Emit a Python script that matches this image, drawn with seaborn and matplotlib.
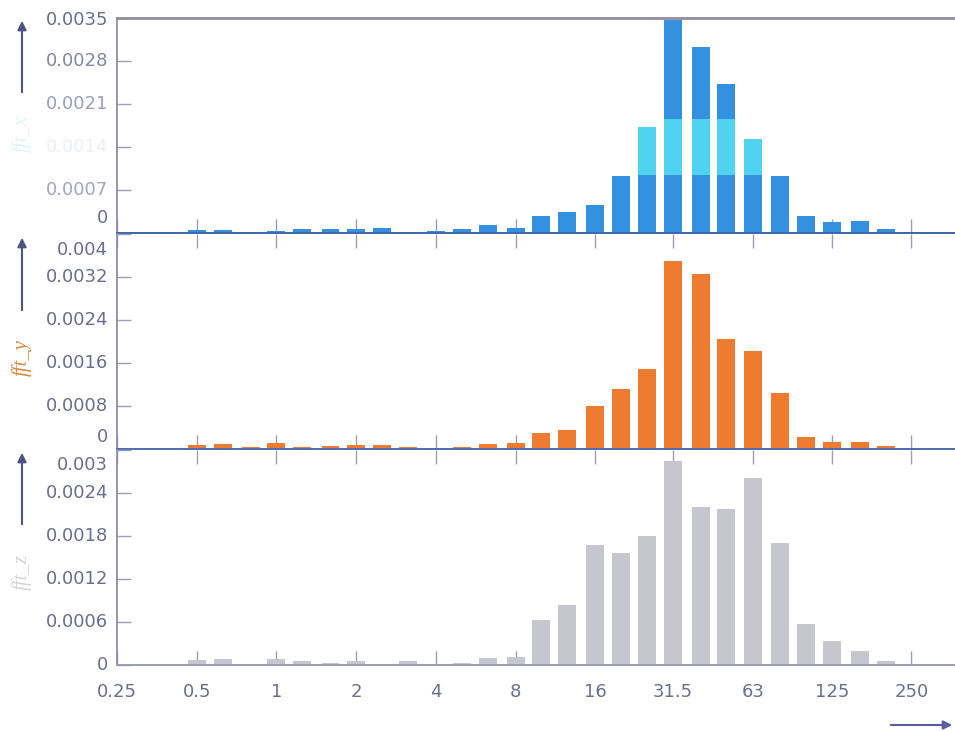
import pandas as pd
import seaborn as sns
import matplotlib
matplotlib.use("Agg")
import matplotlib.pyplot as plt
from matplotlib.patches import FancyArrowPatch, Rectangle

# Third-octave band centres (Hz) and spectral amplitude per channel
band_hz = [0.5, 0.63, 0.8, 1, 1.25, 1.6, 2, 2.5, 3.15, 4, 5, 6.3, 8, 10,
           12.5, 16, 20, 25, 31.5, 40, 50, 63, 80, 100, 125, 160, 200, 250]
fft_x = [0.00005, 0.00005, 0.00001, 0.00004, 0.00006, 0.00006, 0.00007, 0.00008,
         0.00002, 0.00003, 0.00006, 0.00013, 0.00008, 0.00028, 0.00034, 0.00046,
         0.00093, 0.00173, 0.00346, 0.00303, 0.00242, 0.00153, 0.00093, 0.00027,
         0.00018, 0.00020, 0.00006, 0.00001]
fft_y = [0.00007, 0.00009, 0.00003, 0.00012, 0.00004, 0.00006, 0.00007, 0.00007,
         0.00003, 0.00001, 0.00004, 0.00010, 0.00011, 0.00030, 0.00035, 0.00080,
         0.00112, 0.00149, 0.00350, 0.00326, 0.00205, 0.00182, 0.00105, 0.00023,
         0.00013, 0.00013, 0.00006, 0.00002]
fft_z = [0.00007, 0.00009, 0.00002, 0.00008, 0.00006, 0.00003, 0.00005, 0.00001,
         0.00005, 0.00002, 0.00003, 0.00010, 0.00011, 0.00063, 0.00084, 0.00167,
         0.00156, 0.00180, 0.00285, 0.00220, 0.00217, 0.00261, 0.00170, 0.00057,
         0.00034, 0.00020, 0.00005, 0.00001]

x_ticks = [0.25, 0.5, 1, 2, 4, 8, 16, 31.5, 63, 125, 250]
x_tick_labels = ["0.25", "0.5", "1", "2", "4", "8", "16", "31.5", "63", "125", "250"]
x_ticks_y = [0.0, 0.0007, 0.0014, 0.0021, 0.0028, 0.0035]
y_ticks_y = [0.0, 0.0008, 0.0016, 0.0024, 0.0032, 0.004]
z_ticks_y = [0.0, 0.0006, 0.0012, 0.0018, 0.0024, 0.003]

df = pd.DataFrame({"band": band_hz, "fft_x": fft_x, "fft_y": fft_y, "fft_z": fft_z})

sns.set_style("white")
plt.rcParams["font.family"] = ["DejaVu Sans"]

W, H = 955, 731
fig = plt.figure(figsize=(W / 100, H / 100), dpi=100)

def fx(px):
    return px / W

def fy(py):
    return 1 - py / H

label_col = "#6b6e92"
tick_col = "#9c9eb8"
left = fx(117)
width = 1 - left

ax_x = fig.add_axes([left, fy(233), width, (233 - 18) / H])
ax_y = fig.add_axes([left, fy(449), width, (449 - 234) / H], sharex=ax_x)
ax_z = fig.add_axes([left, fy(665), width, (665 - 450) / H], sharex=ax_x)

bar_kw = dict(native_scale=True, log_scale=(2, False), width=0.7,
              saturation=1, errorbar=None, linewidth=0)

sns.barplot(data=df, x="band", y="fft_x", color="#3391e0", ax=ax_x, **bar_kw)
# light streak across the upper spectrum
n0 = len(ax_x.patches)
sns.barplot(data=df, x="band", y="fft_x", color="#4fd3f1", ax=ax_x, **bar_kw)
streak = Rectangle((0.1, 0.00094), 1000, 0.00092, transform=ax_x.transData)
for p in ax_x.patches[n0:]:
    p.set_clip_path(streak)

sns.barplot(data=df, x="band", y="fft_y", color="#ef7b31", ax=ax_y, **bar_kw)
sns.barplot(data=df, x="band", y="fft_z", color="#c6c6ce", ax=ax_z, **bar_kw)

panels = [
    (ax_x, x_ticks_y, 0.0035, "#3f65a8"),
    (ax_y, y_ticks_y, 0.004, "#4f6bb0"),
    (ax_z, z_ticks_y, 0.003, "#9a9cb0"),
]
for ax, yt, ymax, base_col in panels:
    ax.set_xlim(0.25, 365)
    ax.set_ylim(0, ymax)
    ax.set_xlabel("")
    ax.set_ylabel("")
    ax.set_facecolor("none")
    ax.set_xticks(x_ticks)
    ax.set_xticks([], minor=True)
    ax.set_yticks(yt)
    ax.set_yticklabels([])
    ax.tick_params(axis="x", direction="in", length=10, width=1, color=tick_col,
                   top=(ax is not ax_x), bottom=True, labelbottom=False,
                   labelcolor=label_col, labelsize=13, pad=13)
    ax.tick_params(axis="y", direction="in", length=10, width=1, color=tick_col,
                   left=True, labelleft=False)
    ax.spines["right"].set_visible(False)
    ax.spines["left"].set_color("#8c8eae")
    ax.spines["left"].set_linewidth(1.3)
    ax.spines["bottom"].set_color(base_col)
    ax.spines["bottom"].set_linewidth(1.4)
    if ax is ax_x:
        ax.spines["top"].set_color("#8e8e9e")
        ax.spines["top"].set_linewidth(2)
    else:
        ax.spines["top"].set_visible(False)
    ax.set_zorder(1)

ax_z.set_xticklabels(x_tick_labels)
ax_z.tick_params(axis="x", labelbottom=True)

def ylab(ax, val, text, dy=0, color=label_col):
    ax.annotate(text, xy=(0, val), xycoords=("axes fraction", "data"),
                xytext=(-9, dy), textcoords="offset pixels",
                ha="right", va="center", fontsize=13, color=color)

# y tick labels, end labels nudged to stay inside each panel
ylab(ax_x, 0.0, "0", dy=15)
ylab(ax_x, 0.0007, "0.0007", color="#a2a4c6")
ylab(ax_x, 0.0014, "0.0014", color="#eceef8")
ylab(ax_x, 0.0021, "0.0021", color="#9a9cc0")
ylab(ax_x, 0.0028, "0.0028", color="#8486a8")
ylab(ax_x, 0.0035, "0.0035", dy=-2)

ylab(ax_y, 0.0, "0", dy=12)
for v, t in zip(y_ticks_y[1:-1], ["0.0008", "0.0016", "0.0024", "0.0032"]):
    ylab(ax_y, v, t)
ylab(ax_y, 0.004, "0.004", dy=-16)

ylab(ax_z, 0.0, "0")
for v, t in zip(z_ticks_y[1:-1], ["0.0006", "0.0012", "0.0018", "0.0024"]):
    ylab(ax_z, v, t)
ylab(ax_z, 0.003, "0.003", dy=-15)

# axis arrows and channel names
arrow_col = "#4f5480"
for y0, y1 in [(95, 18), (313, 235), (527, 450)]:
    fig.add_artist(FancyArrowPatch((fx(22), fy(y0)), (fx(22), fy(y1)),
                                   transform=fig.transFigure, arrowstyle="-|>",
                                   mutation_scale=13, color=arrow_col, lw=1.5))
fig.add_artist(FancyArrowPatch((fx(888), fy(725)), (fx(955), fy(725)),
                               transform=fig.transFigure, arrowstyle="-|>",
                               mutation_scale=13, color="#5c5c9c", lw=1.5))

name_kw = dict(rotation=90, ha="center", va="center", fontsize=15,
               style="italic", family=["Liberation Serif", "DejaVu Serif"])
fig.text(fx(22), fy(133), "fft_x", color="#dff3fb", **name_kw)
fig.text(fx(22), fy(357), "fft_y", color="#e0893c", **name_kw)
fig.text(fx(22), fy(572), "fft_z", color="#d4d4dc", **name_kw)

fig.savefig("out.png", dpi=100, facecolor="white")
